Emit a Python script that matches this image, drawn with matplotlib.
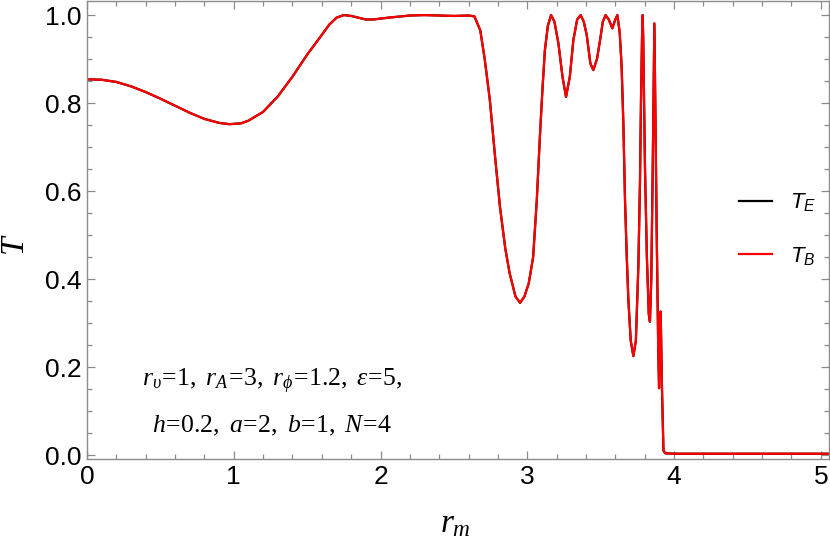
import matplotlib
matplotlib.use("Agg")
import matplotlib.pyplot as plt
from matplotlib.ticker import MultipleLocator

plt.rcParams['mathtext.fontset'] = 'custom'
plt.rcParams['mathtext.rm'] = 'Liberation Serif'
plt.rcParams['mathtext.it'] = 'Liberation Serif:italic'
plt.rcParams['mathtext.sf'] = 'Liberation Sans:italic'

# r_m values
r_m = [0.0, 0.1, 0.2, 0.3, 0.4, 0.5, 0.6, 0.7, 0.8, 0.9, 0.97, 1.05, 1.1, 1.2, 1.3, 1.4,
       1.5, 1.6, 1.65, 1.7, 1.75, 1.8, 1.9, 1.95, 2.05, 2.2, 2.3, 2.5, 2.6, 2.64, 2.68, 2.71,
       2.745, 2.78, 2.814, 2.85, 2.88, 2.92, 2.951, 2.98, 3.01, 3.04, 3.065, 3.087,
       3.105, 3.12, 3.14, 3.162, 3.185, 3.212, 3.24, 3.264, 3.29, 3.314, 3.34, 3.364,
       3.385, 3.405, 3.43, 3.45, 3.475, 3.496, 3.515, 3.534, 3.555, 3.58, 3.6, 3.614,
       3.63, 3.643, 3.655, 3.666, 3.678, 3.689, 3.705, 3.723, 3.74, 3.757, 3.768, 3.775,
       3.782, 3.786, 3.79, 3.802, 3.815, 3.828, 3.836, 3.845, 3.855, 3.866, 3.874, 3.882,
       3.892, 3.898, 3.904, 3.909, 3.918, 3.928, 3.94, 4.0, 4.5, 5.06]

# transmission T_B (red)
T_B = [0.854, 0.853, 0.848, 0.838, 0.825, 0.81, 0.794, 0.778, 0.764, 0.755, 0.752, 0.754,
       0.76, 0.78, 0.815, 0.86, 0.91, 0.955, 0.978, 0.994, 1.0, 0.998, 0.99, 0.99, 0.994, 0.999,
       1.0, 0.998, 0.999, 0.997, 0.965, 0.9, 0.807, 0.68, 0.564, 0.47, 0.413, 0.36, 0.346,
       0.36, 0.39, 0.45, 0.58, 0.73, 0.84, 0.92, 0.975, 1.0, 0.985, 0.936, 0.86, 0.814,
       0.86, 0.943, 0.99, 1.0, 0.985, 0.955, 0.89, 0.875, 0.9, 0.943, 0.985, 1.0, 0.99,
       0.97, 0.99, 1.0, 0.96, 0.883, 0.75, 0.58, 0.45, 0.352, 0.26, 0.225, 0.26, 0.43,
       0.62, 0.807, 0.95, 1.0, 0.95, 0.655, 0.45, 0.32, 0.303, 0.4, 0.655, 0.981, 0.75,
       0.504, 0.25, 0.152, 0.32, 0.326, 0.15, 0.01, 0.004, 0.003, 0.003, 0.003]

# T_E (black) coincides with T_B and is hidden beneath it
T_E = list(T_B)

x_ticks = [0, 1, 2, 3, 4, 5]
y_ticks = [0.0, 0.2, 0.4, 0.6, 0.8, 1.0]
y_tick_labels = ["0.0", "0.2", "0.4", "0.6", "0.8", "1.0"]

W, H = 830, 546
fig = plt.figure(figsize=(W / 100, H / 100), dpi=100)
ax = fig.add_axes([87 / W, 1 - 459 / H, (829 - 87) / W, (459 - 1) / H])

ax.plot(r_m, T_E, color='black', lw=1.6, label=r'$\mathsf{T_E}$')
ax.plot(r_m, T_B, color='red', lw=1.6, label=r'$\mathsf{T_B}$')

ax.set_xlim(0, 5.056)
ax.set_ylim(-0.009, 1.032)

ax.set_xticks(x_ticks)
ax.set_xticklabels([str(v) for v in x_ticks])
ax.set_yticks(y_ticks)
ax.set_yticklabels(y_tick_labels)
ax.xaxis.set_minor_locator(MultipleLocator(0.2))
ax.yaxis.set_minor_locator(MultipleLocator(0.05))

frame_col = '#8c8c8c'
for s in ax.spines.values():
    s.set_color(frame_col)
    s.set_linewidth(1.0)
ax.tick_params(which='both', direction='in', top=True, right=True, color=frame_col,
               width=0.9, labelsize=19, labelcolor='black')
ax.tick_params(which='major', length=6, pad=4)
ax.tick_params(which='minor', length=3.5)
for lab in ax.get_xticklabels() + ax.get_yticklabels():
    lab.set_family('Liberation Sans')

fig.text(15 / W, 1 - 245 / H, r'$T$', rotation=90, fontsize=24, ha='center', va='center')
fig.text(455 / W, 1 - 523 / H, r'$r_m$', fontsize=24, ha='center', va='center')

fig.text(272 / W, 1 - 381 / H, r'$r_\upsilon\!=\!1,\ r_A\!=\!3,\ r_\phi\!=\!1.2,\ \varepsilon\!=\!5,$',
         fontsize=18.5, ha='center', va='center')
fig.text(272 / W, 1 - 425 / H, r'$h\!=\!0.2,\ a\!=\!2,\ b\!=\!1,\ N\!=\!4$',
         fontsize=18.5, ha='center', va='center')

ax.legend(loc='center left', bbox_to_anchor=(739 / W, 1 - 229.5 / H),
          bbox_transform=fig.transFigure, frameon=False, fontsize=16,
          handlelength=1.5, handletextpad=0.8, labelspacing=1.4,
          borderpad=0, borderaxespad=0)

fig.savefig('out.png', dpi=100)
